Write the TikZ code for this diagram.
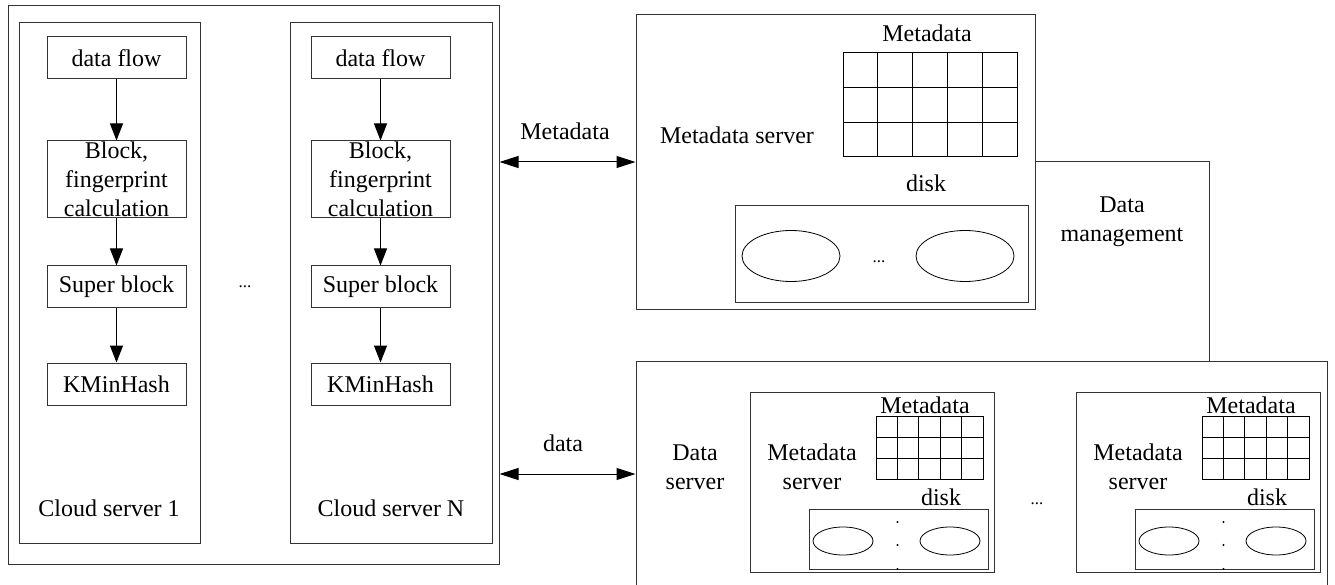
\documentclass[tikz,border=0pt]{standalone}
\usepackage{fontspec}
\setmainfont{Liberation Serif}
\usetikzlibrary{arrows.meta}

\tikzset{
  frame/.style={draw=black!80, line width=1pt, inner sep=0pt},
  stage/.style={draw=black!80, line width=1pt, inner sep=0pt, minimum width=139pt, align=center},
  flow/.style={-{Triangle[length=17pt,width=13pt]}, line width=1pt},
  link/.style={{Triangle[length=19pt,width=12pt]}-{Triangle[length=19pt,width=12pt]}, line width=1pt},
  lbl/.style={align=center, inner sep=0pt},
  ell/.style={font=\fontsize{17}{20}\selectfont, inner sep=0pt},
  pics/mgrid/.style 2 args={code={
    \draw[line width=1pt] (0,0) rectangle (#1,#2);
    \foreach \i in {1,...,4} \draw[line width=1pt] ({\i*#1/5},0) -- ({\i*#1/5},#2);
    \foreach \j in {1,2} \draw[line width=1pt] (0,{\j*#2/3}) -- (#1,{\j*#2/3});
  }}
}

\begin{document}
\begin{tikzpicture}[x=1pt, y=-1pt, font=\fontsize{24}{29}\selectfont]
\useasboundingbox (0,0) rectangle (1335,585);

% ---- cloud side ----
\node[frame, minimum width=491pt, minimum height=558pt] (cloud) at (253.5,285) {};
\node[frame, minimum width=181pt, minimum height=520pt] (cs1) at (109.5,283) {};
\node[frame, minimum width=202pt, minimum height=520pt] (csN) at (391,283) {};

\foreach \cx/\id in {116.5/1, 380.5/N}{
  \node[stage, minimum height=42pt] (df\id) at (\cx,58) {data flow};
  \node[stage, minimum height=77pt] (bl\id) at (\cx,179.5) {};
  \node[lbl] at (bl\id) {Block,\\fingerprint\\calculation};
  \node[stage, minimum height=41pt] (sb\id) at (\cx,286.5) {Super block};
  \node[stage, minimum height=42pt] (kh\id) at (\cx,384) {KMinHash};
  \draw[flow] (df\id) -- (bl\id);
  \draw[flow] (bl\id) -- (sb\id);
  \draw[flow] (sb\id) -- (kh\id);
}
\node[lbl] (c1lab) at (109,508) {Cloud server 1};
\node[lbl] (cNlab) at (391,508) {Cloud server N};
\node[ell] (cdots) at (245,287) {...};

% ---- metadata server ----
\node[frame, minimum width=399pt, minimum height=294pt] (ms) at (835.5,162) {};
\node[lbl] (mslab) at (737,135) {Metadata server};
\node[lbl] (mgl) at (927,33) {Metadata};
\pic at (843,53) {mgrid={174}{104}};
\node[lbl] (mdisk) at (926,183) {disk};
\node[frame, minimum width=293pt, minimum height=96pt] (mdbox) at (881.5,254) {};
\draw[line width=0.8pt] (791,256) ellipse [x radius=49, y radius=25.5];
\draw[line width=0.8pt] (965,256) ellipse [x radius=49, y radius=25.5];
\node[ell] (mdots) at (879,262) {...};

% ---- data server ----
\node[frame, minimum width=691pt, minimum height=226pt] (ds) at (981.5,474) {};
\node[lbl] (dslab) at (695,467) {Data\\server};
\node[ell] (ddots) at (1037,504) {...};

\foreach \bx/\id in {750/a, 1076/b}{
  \node[frame, minimum width=244pt, minimum height=180pt, anchor=north west] (in\id) at (\bx,392) {};
  \node[lbl] at ({\bx+62},467) {Metadata\\server};
  \node[lbl] at ({\bx+175},405) {Metadata};
  \pic at ({\bx+126},416) {mgrid={107}{63}};
  \node[lbl] at ({\bx+191},497) {disk};
  \node[frame, minimum width=179pt, minimum height=60pt, anchor=north west] (dk\id) at ({\bx+59},509) {};
  \draw[line width=0.8pt] ({\bx+93},541) ellipse [x radius=30, y radius=14];
  \draw[line width=0.8pt] ({\bx+200},541) ellipse [x radius=30, y radius=14];
  \foreach \dy in {522,545,569} \fill ({\bx+147.5},\dy) circle [radius=1.1pt];
}

% ---- connectors ----
\draw[link] (cloud.east |- ms.west) -- (ms.west);
\node[lbl] (mlink) at (565,131) {Metadata};
\draw[link] (cloud.east |- ds.west) -- (ds.west);
\node[lbl] (dlink) at (563,443) {data};

\coordinate (dm) at (1209,162);
\draw[line width=1pt, draw=black!80] (ms.east) -- (dm) -- (dm |- ds.north);
\node[lbl] (dmlab) at (1122,222) {Data\\management};
\end{tikzpicture}
\end{document}
